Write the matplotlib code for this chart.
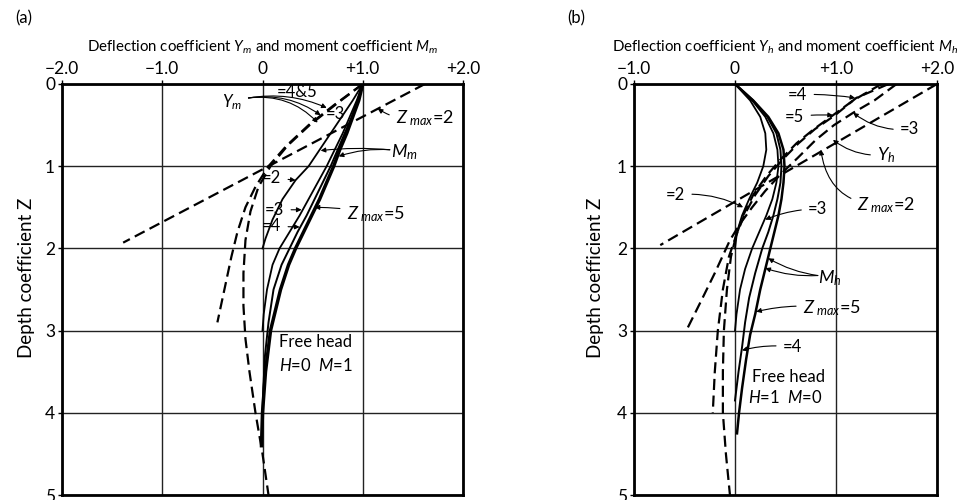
import matplotlib
matplotlib.use("Agg")
import matplotlib.pyplot as plt

plt.rcParams['font.family'] = ['Lato', 'DejaVu Sans']
plt.rcParams['mathtext.fontset'] = 'custom'
plt.rcParams['mathtext.rm'] = 'Lato'
plt.rcParams['mathtext.it'] = 'Lato:italic'

# ---- panel (a): free head, H=0, M=1 ----
ym2_x = [1.62, -1.39]
ym2_z = [0.0, 1.93]
ym3_x = [1.0, 0.72, 0.46, 0.24, 0.06, -0.07, -0.17, -0.25, -0.31, -0.38, -0.45]
ym3_z = [0.0, 0.25, 0.5, 0.75, 1.0, 1.25, 1.5, 1.8, 2.1, 2.5, 2.9]
ym45_x = [1.0, 0.73, 0.47, 0.25, 0.08, -0.04, -0.12, -0.17, -0.19, -0.19, -0.17, -0.13, -0.07, 0.0, 0.06]
ym45_z = [0.0, 0.25, 0.5, 0.75, 1.0, 1.25, 1.55, 1.9, 2.3, 2.7, 3.1, 3.5, 4.0, 4.5, 5.0]

mm2_x = [1.0, 0.9, 0.79, 0.68, 0.57, 0.46, 0.33, 0.2, 0.1, 0.03, 0.0]
mm2_z = [0.0, 0.2, 0.4, 0.6, 0.8, 1.0, 1.17, 1.4, 1.65, 1.88, 2.0]
mm3_x = [1.0, 0.94, 0.87, 0.8, 0.72, 0.64, 0.55, 0.46, 0.37, 0.27, 0.17, 0.1, 0.045, 0.012, 0.0]
mm3_z = [0.0, 0.2, 0.4, 0.6, 0.8, 1.0, 1.2, 1.4, 1.6, 1.8, 2.0, 2.2, 2.5, 2.8, 3.0]
mm4_x = [1.0, 0.95, 0.89, 0.82, 0.75, 0.68, 0.6, 0.52, 0.44, 0.35, 0.27, 0.19, 0.11, 0.06, 0.025, 0.008, 0.0]
mm4_z = [0.0, 0.2, 0.4, 0.6, 0.8, 1.0, 1.2, 1.4, 1.6, 1.8, 2.0, 2.2, 2.5, 2.9, 3.3, 3.7, 4.0]
mm5_x = [1.0, 0.96, 0.9, 0.84, 0.77, 0.71, 0.64, 0.57, 0.49, 0.41, 0.33, 0.26, 0.18, 0.13, 0.08, 0.03, 0.0, -0.01]
mm5_z = [0.0, 0.2, 0.4, 0.6, 0.8, 1.0, 1.2, 1.4, 1.6, 1.8, 2.0, 2.2, 2.5, 2.75, 3.0, 3.5, 4.0, 4.4]

# ---- panel (b): free head, H=1, M=0 ----
yh2_x = [2.0, -0.74]
yh2_z = [0.0, 1.96]
yh3_x = [1.6, 1.38, 1.17, 0.98, 0.8, 0.62, 0.45, 0.3, 0.17, 0.05, -0.05, -0.2, -0.34, -0.47]
yh3_z = [0.0, 0.2, 0.35, 0.5, 0.68, 0.9, 1.1, 1.3, 1.5, 1.7, 1.9, 2.3, 2.65, 2.97]
yh4_x = [1.52, 1.2, 0.99, 0.79, 0.63, 0.47, 0.33, 0.2, 0.09, 0.01, -0.06, -0.12, -0.17, -0.2, -0.22]
yh4_z = [0.0, 0.17, 0.38, 0.55, 0.72, 0.92, 1.12, 1.35, 1.6, 1.85, 2.1, 2.5, 3.0, 3.5, 4.0]
yh5_x = [1.45, 1.17, 0.97, 0.78, 0.61, 0.45, 0.31, 0.18, 0.08, 0.01, -0.04, -0.08, -0.11, -0.12, -0.12, -0.09, -0.05]
yh5_z = [0.0, 0.2, 0.38, 0.55, 0.72, 0.92, 1.12, 1.35, 1.6, 1.85, 2.1, 2.5, 3.0, 3.5, 4.0, 4.5, 5.0]

mh2_x = [0.0, 0.15, 0.25, 0.3, 0.31, 0.28, 0.22, 0.14, 0.07, 0.02, 0.0]
mh2_z = [0.0, 0.2, 0.4, 0.6, 0.8, 1.0, 1.2, 1.4, 1.6, 1.8, 2.0]
mh3_x = [0.0, 0.17, 0.3, 0.38, 0.42, 0.43, 0.41, 0.37, 0.31, 0.24, 0.17, 0.1, 0.05, 0.015, 0.0]
mh3_z = [0.0, 0.2, 0.4, 0.6, 0.8, 1.0, 1.2, 1.4, 1.6, 1.8, 2.0, 2.25, 2.5, 2.8, 3.0]
mh4_x = [0.0, 0.18, 0.32, 0.41, 0.45, 0.46, 0.45, 0.42, 0.38, 0.33, 0.27, 0.2, 0.14, 0.1, 0.07, 0.035, 0.01, 0.0]
mh4_z = [0.0, 0.2, 0.4, 0.6, 0.8, 1.0, 1.2, 1.4, 1.6, 1.8, 2.0, 2.3, 2.6, 2.9, 3.2, 3.5, 3.75, 3.85]
mh5_x = [0.0, 0.18, 0.33, 0.43, 0.48, 0.49, 0.48, 0.46, 0.43, 0.39, 0.35, 0.3, 0.25, 0.2, 0.15, 0.11, 0.07, 0.04, 0.02]
mh5_z = [0.0, 0.2, 0.4, 0.6, 0.8, 1.0, 1.2, 1.4, 1.6, 1.8, 2.0, 2.25, 2.5, 2.8, 3.05, 3.35, 3.7, 4.0, 4.25]

ticks_a = [-2.0, -1.0, 0.0, 1.0, 2.0]
labels_a = ['\u22122.0', '\u22121.0', '0', '+1.0', '+2.0']
ticks_b = [-1.0, 0.0, 1.0, 2.0]
labels_b = ['\u22121.0', '0', '+1.0', '+2.0']
depth_ticks = [0, 1, 2, 3, 4, 5]

DASH = (0, (5, 2.5))
LBL = 12
fig = plt.figure(figsize=(9.64, 5.0), dpi=100)


def setup(ax, xlim, ticks, labels, title):
    ax.set_xlim(*xlim)
    ax.set_ylim(5, 0)
    ax.xaxis.tick_top()
    ax.set_xticks(ticks)
    ax.set_xticklabels(labels, fontsize=12.5)
    ax.set_yticks(depth_ticks)
    ax.set_yticklabels([str(t) for t in depth_ticks], fontsize=12.5)
    ax.tick_params(direction='out', length=3, width=1, pad=2)
    ax.grid(True, color='#222222', lw=1.0)
    ax.set_axisbelow(True)
    for s in ax.spines.values():
        s.set_linewidth(2.0)
    ax.set_title(title, fontsize=10.8, pad=23)


def arrow(ax, tip, start, rad=0.0):
    ax.annotate('', xy=tip, xytext=start,
                arrowprops=dict(arrowstyle='-|>', lw=0.8, color='k', mutation_scale=7,
                                shrinkA=0, shrinkB=0,
                                connectionstyle=f'arc3,rad={rad}'))


def note(ax, text, xy, xytext, rad=0.0, size=LBL):
    ax.annotate(text, xy=xy, xytext=xytext, fontsize=size, ha='center', va='center',
                arrowprops=dict(arrowstyle='-|>', lw=0.8, color='k', mutation_scale=7,
                                shrinkA=3, shrinkB=0,
                                connectionstyle=f'arc3,rad={rad}'))


# panel (a)
axa = fig.add_axes([62 / 964, 5 / 500, 401 / 964, 411 / 500])
setup(axa, (-2, 2), ticks_a, labels_a,
      r'Deflection coefficient $Y_m$ and moment coefficient $M_m$')
for x, z in [(ym2_x, ym2_z), (ym3_x, ym3_z), (ym45_x, ym45_z)]:
    axa.plot(x, z, color='k', lw=1.6, ls=DASH)
for x, z, w in [(mm2_x, mm2_z, 1.3), (mm3_x, mm3_z, 1.3), (mm4_x, mm4_z, 1.4), (mm5_x, mm5_z, 2.5)]:
    axa.plot(x, z, color='k', lw=w)

axa.text(-0.3, 0.22, r'$Y_m$', fontsize=LBL, ha='center', va='center')
for tip, r in [((0.64, 0.29), -0.15), ((0.58, 0.38), -0.2), ((0.55, 0.47), -0.25)]:
    arrow(axa, tip, (-0.14, 0.17), r)
axa.text(0.35, 0.1, '=4&5', fontsize=LBL, ha='center', va='center')
axa.text(0.73, 0.36, '=3', fontsize=LBL, ha='center', va='center')
note(axa, r'$Z_{\ max}$=2', (1.15, 0.3), (1.62, 0.42), rad=-0.2, size=13)
axa.text(1.42, 0.83, r'$M_m$', fontsize=13, ha='center', va='center')
arrow(axa, (0.58, 0.81), (1.27, 0.8), 0.05)
arrow(axa, (0.76, 0.88), (1.27, 0.8), 0.1)
note(axa, '=2', (0.33, 1.17), (0.09, 1.14))
note(axa, '=3', (0.39, 1.53), (0.12, 1.53))
note(axa, '=4', (0.37, 1.74), (0.09, 1.73))
note(axa, r'$Z_{\ max}$=5', (0.52, 1.5), (1.13, 1.58), rad=0.05, size=13)
axa.text(0.53, 3.14, 'Free head', fontsize=LBL, ha='center', va='center')
axa.text(0.53, 3.42, r'$H$=0  $M$=1', fontsize=LBL, ha='center', va='center')

# panel (b)
axb = fig.add_axes([634 / 964, 5 / 500, 303 / 964, 411 / 500])
setup(axb, (-1, 2), ticks_b, labels_b,
      r'Deflection coefficient $Y_h$ and moment coefficient $M_h$')
for x, z in [(yh2_x, yh2_z), (yh3_x, yh3_z), (yh4_x, yh4_z), (yh5_x, yh5_z)]:
    axb.plot(x, z, color='k', lw=1.6, ls=DASH)
for x, z, w in [(mh2_x, mh2_z, 1.3), (mh3_x, mh3_z, 1.3), (mh4_x, mh4_z, 1.4), (mh5_x, mh5_z, 1.8)]:
    axb.plot(x, z, color='k', lw=w)

note(axb, '=4', (1.19, 0.17), (0.62, 0.13), rad=-0.05)
note(axb, '=5', (0.97, 0.38), (0.59, 0.4), rad=-0.05)
note(axb, '=3', (1.17, 0.35), (1.73, 0.55), rad=-0.2)
note(axb, r'$Y_h$', (0.97, 0.68), (1.5, 0.86), rad=-0.2, size=13)
note(axb, r'$Z_{\ max}$=2', (0.85, 0.8), (1.5, 1.47), rad=-0.45, size=13)
note(axb, '=2', (0.08, 1.5), (-0.59, 1.35), rad=-0.15)
note(axb, '=3', (0.3, 1.65), (0.82, 1.52), rad=0.1)
axb.text(0.94, 2.36, r'$M_h$', fontsize=13, ha='center', va='center')
arrow(axb, (0.33, 2.12), (0.82, 2.33), -0.1)
arrow(axb, (0.3, 2.24), (0.82, 2.33), -0.1)
note(axb, r'$Z_{\ max}$=5', (0.21, 2.77), (0.96, 2.73), rad=0.1, size=13)
note(axb, '=4', (0.07, 3.24), (0.57, 3.2), rad=0.1)
axb.text(0.53, 3.56, 'Free head', fontsize=LBL, ha='center', va='center')
axb.text(0.5, 3.81, r'$H$=1  $M$=0', fontsize=LBL, ha='center', va='center')

fig.text(27 / 964, 1 - 278 / 500, 'Depth coefficient Z', rotation=90, fontsize=13.5,
         ha='center', va='center')
fig.text(595 / 964, 1 - 278 / 500, 'Depth coefficient Z', rotation=90, fontsize=13.5,
         ha='center', va='center')
fig.text(24 / 964, 1 - 18 / 500, '(a)', fontsize=12, ha='center', va='center')
fig.text(576 / 964, 1 - 18 / 500, '(b)', fontsize=12, ha='center', va='center')

fig.savefig('out.png', dpi=100)
